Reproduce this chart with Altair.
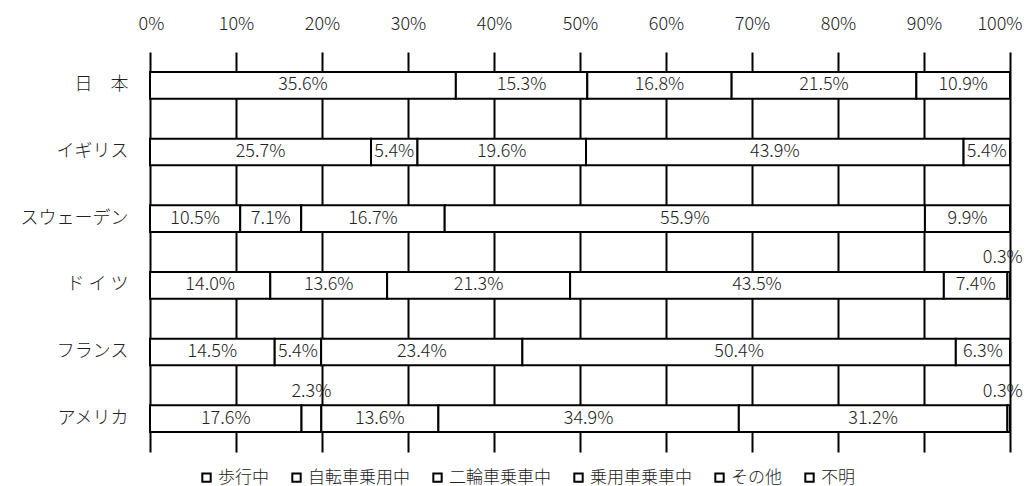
import altair as alt
import pandas as pd

countries = ["日　本", "イギリス", "スウェーデン", "ド イ ツ", "フランス", "アメリカ"]
categories = ["歩行中", "自転車乗用中", "二輪車乗車中", "乗用車乗車中", "その他", "不明"]

walk = [35.6, 25.7, 10.5, 14.0, 14.5, 17.6]
bike = [15.3, 5.4, 7.1, 13.6, 5.4, 2.3]
moto = [16.8, 19.6, 16.7, 21.3, 23.4, 13.6]
car = [21.5, 43.9, 55.9, 43.5, 50.4, 34.9]
other = [10.9, 5.4, 9.9, 7.4, 6.3, 31.2]
unknown = [0.0, 0.0, 0.0, 0.3, 0.0, 0.3]

series = [walk, bike, moto, car, other, unknown]
rows = []
for ci, cat in enumerate(categories):
    for ri, c in enumerate(countries):
        rows.append({"country": c, "category": cat, "order": ci, "value": series[ci][ri]})
df = pd.DataFrame(rows)

FONT = "Noto Sans CJK JP"
FW = 300

base = alt.Chart(df).transform_stack(
    stack="value", groupby=["country"], as_=["v0", "v1"],
    offset="normalize", sort=[alt.SortField("order", order="ascending")]
).transform_calculate(
    mid="(datum.v0 + datum.v1) / 2",
    label="format(datum.value, '.1f') + '%'"
)

yenc = alt.Y("country:N", sort=countries,
             scale=alt.Scale(paddingInner=0.6, paddingOuter=0.3),
             axis=alt.Axis(title=None, domain=False, ticks=False, labelPadding=22,
                           labelFontSize=18, labelFont=FONT, labelFontWeight=FW,
                           labelColor="#222"))

bars = base.mark_bar(stroke="black", strokeWidth=2).encode(
    x=alt.X("v0:Q", scale=alt.Scale(domain=[0, 1], nice=False),
            axis=alt.Axis(orient="top", title=None, format="%",
                          values=[i / 10 for i in range(11)],
                          grid=True, gridColor="black", gridWidth=2, gridOpacity=1,
                          domain=False, ticks=False, labelPadding=19,
                          labelFlush=True, labelFlushOffset=12,
                          labelFontSize=18, labelFont=FONT, labelFontWeight=FW,
                          labelColor="#222")),
    x2="v1:Q",
    y=yenc,
    fill=alt.Fill("category:N",
                  scale=alt.Scale(domain=categories, range=["white"] * 6),
                  legend=alt.Legend(title=None, orient="none", direction="horizontal",
                                    legendX=48, legendY=417,
                                    symbolType="square", symbolSize=70,
                                    symbolStrokeColor="black", symbolStrokeWidth=2,
                                    symbolFillColor="white",
                                    labelFontSize=17, labelFont=FONT, labelFontWeight=FW,
                                    labelColor="#222",
                                    labelOffset=3, columnPadding=19)),
)

text_in = base.transform_filter("datum.value >= 3").mark_text(
    fontSize=18, font=FONT, fontWeight=FW, color="#222", baseline="middle"
).encode(x="mid:Q", y=alt.Y("country:N", sort=countries), text="label:N")

text_small = base.transform_filter("datum.value >= 1 && datum.value < 3").mark_text(
    fontSize=18, font=FONT, fontWeight=FW, color="#222", baseline="middle", dy=-27
).encode(x="mid:Q", y=alt.Y("country:N", sort=countries), text="label:N")

text_tiny = base.transform_filter("datum.value > 0 && datum.value < 1").mark_text(
    fontSize=18, font=FONT, fontWeight=FW, color="#222", baseline="middle", dy=-27,
    align="right", dx=14
).encode(x="mid:Q", y=alt.Y("country:N", sort=countries), text="label:N")

chart = alt.layer(bars, text_in, text_small, text_tiny).properties(
    width=860, height=400,
    autosize=alt.AutoSizeParams(type="none"),
    padding={"left": 142, "top": 44, "right": 15, "bottom": 40}
).configure_view(stroke=None)

chart.save("out.html", embed_options={"renderer": "svg", "actions": False})
